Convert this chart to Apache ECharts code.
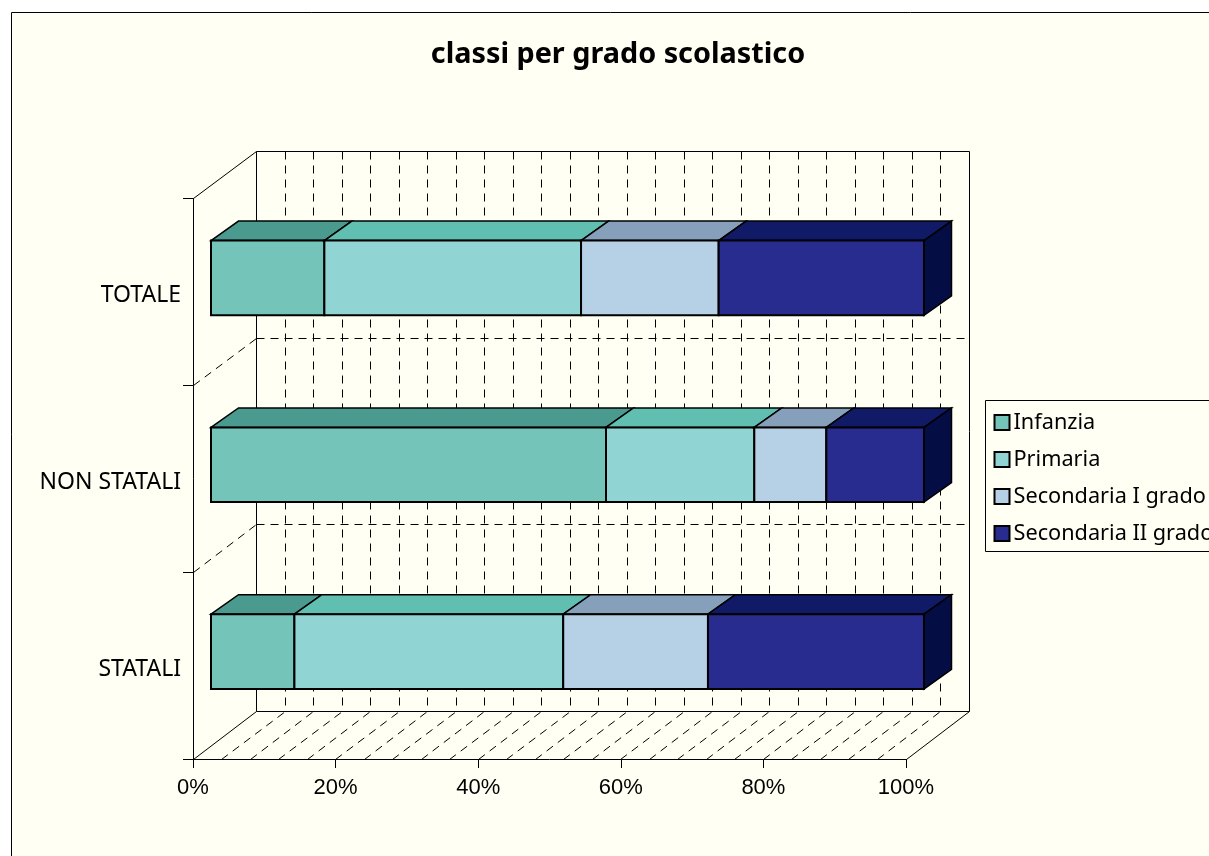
<!DOCTYPE html>
<html><head><meta charset="utf-8">
<style>html,body{margin:0;padding:0;background:#fff;overflow:hidden}#c{width:1209px;height:856px}</style>
<script src="https://cdn.jsdelivr.net/npm/echarts@6/dist/echarts.min.js"></script>
</head><body><div id="c"></div>
<script>
const categories = ['STATALI', 'NON STATALI', 'TOTALE'];
const seriesNames = ['Infanzia', 'Primaria', 'Secondaria I grado', 'Secondaria II grado'];
const infanzia = [11.7, 55.4, 15.9];
const primaria = [37.7, 20.8, 36.0];
const secondariaI = [20.3, 10.1, 19.3];
const secondariaII = [30.3, 13.7, 28.8];
const values = [infanzia, primaria, secondariaI, secondariaII];
const wallTicks = [0,4,8,12,16,20,24,28,32,36,40,44,48,52,56,60,64,68,72,76,80,84,88,92,96,100];
const frontColors = ['#74C4BA', '#90D4D3', '#B6D1E5', '#282C8F'];
const topColors = ['#4A9A90', '#60BFB0', '#86A0BC', '#111A66'];
const sideColor = '#050D45';

const DEPTH = [63.5, -47.3];
const BAR_OFFSET = [18, -14];
const BAR_DEPTH = [27.5, -19.5];
const BAR_FRAC = 0.4;
const DASH = [8, 6];
const ink = '#000';

function snap(v) { return Math.round(v - 0.5) + 0.5; }
function line(a, b, dashed) {
  return { type: 'line', shape: { x1: snap(a[0]), y1: snap(a[1]), x2: snap(b[0]), y2: snap(b[1]) },
    style: { stroke: ink, lineWidth: 1, lineDash: dashed ? DASH : null } };
}
function renderWallTick(params, api) {
  const v = api.value(0);
  const cs = params.coordSys;
  const x = api.coord([v, 0])[0];
  const bottom = cs.y + cs.height, top = cs.y;
  const edge = v === 0 || v === 100;
  const kids = [];
  kids.push(line([x + DEPTH[0], top + DEPTH[1]], [x + DEPTH[0], bottom + DEPTH[1]], !edge));
  kids.push(line([x, bottom], [x + DEPTH[0], bottom + DEPTH[1]], !edge));
  if (v === 0) {
    kids.push(line([x, top], [x + DEPTH[0], top + DEPTH[1]], false));
    kids.push(line([x + DEPTH[0], top + DEPTH[1]], [x + DEPTH[0] + cs.width, top + DEPTH[1]], false));
    kids.push(line([x + DEPTH[0], bottom + DEPTH[1]], [x + DEPTH[0] + cs.width, bottom + DEPTH[1]], false));
    const band = api.size([0, 1])[1];
    for (let i = 1; i < categories.length; i++) {
      const y = bottom - band * i;
      kids.push(line([x, y], [x + DEPTH[0], y + DEPTH[1]], true));
      kids.push(line([x + DEPTH[0], y + DEPTH[1]], [x + DEPTH[0] + cs.width, y + DEPTH[1]], true));
    }
  }
  return { type: 'group', children: kids };
}
function poly(points, fill, w) {
  return { type: 'polygon', shape: { points }, style: { fill, stroke: ink, lineWidth: w, lineJoin: 'miter' } };
}
function renderBar(si) {
  return function (params, api) {
    const cat = api.value(2);
    const p0 = api.coord([api.value(0), cat]);
    const p1 = api.coord([api.value(1), cat]);
    const h = api.size([0, 1])[1] * BAR_FRAC;
    const x0 = p0[0] + BAR_OFFSET[0], x1 = p1[0] + BAR_OFFSET[0];
    const yc = p0[1] + BAR_OFFSET[1];
    const t = yc - h / 2, b = yc + h / 2;
    const dx = BAR_DEPTH[0], dy = BAR_DEPTH[1];
    const kids = [
      poly([[x0, t], [x0 + dx, t + dy], [x1 + dx, t + dy], [x1, t]], topColors[si], 1.5)
    ];
    if (si === values.length - 1) {
      kids.push(poly([[x1, t], [x1 + dx, t + dy], [x1 + dx, b + dy], [x1, b]], sideColor, 1.5));
    }
    kids.push(poly([[x0, t], [x1, t], [x1, b], [x0, b]], frontColors[si], 2));
    return { type: 'group', children: kids };
  };
}
const barSeries = seriesNames.map((name, si) => ({
  name, type: 'custom', z: 5 + si, clip: false,
  itemStyle: { color: frontColors[si], borderColor: ink, borderWidth: 2 },
  encode: { x: [0, 1], y: 2 },
  renderItem: renderBar(si),
  data: categories.map((c, ci) => {
    let s = 0;
    for (let k = 0; k < si; k++) s += values[k][ci];
    return [s, s + values[si][ci], ci];
  })
}));

const labelFont = '"Noto Sans"';
const chart = echarts.init(document.getElementById('c'), null, { renderer: 'canvas' });
chart.setOption({
  animation: false,
  backgroundColor: '#fff',
  graphic: [{ type: 'rect', z: -10, silent: true,
    shape: { x: 11.5, y: 12.5, width: 1400, height: 1000 },
    style: { fill: '#FFFFF3', stroke: ink, lineWidth: 1 } }],
  title: { text: 'classi per grado scolastico', left: 613, top: 35, textAlign: 'center',
    textStyle: { fontFamily: labelFont, fontWeight: 'bold', fontSize: 28.8, color: ink } },
  grid: { left: 193, width: 713, top: 198.5, height: 560.5, containLabel: false },
  xAxis: { type: 'value', min: 0, max: 100, interval: 20,
    axisLine: { show: true, onZero: false, lineStyle: { color: ink, width: 1 } },
    axisTick: { show: true, length: 9, lineStyle: { color: ink } },
    splitLine: { show: false },
    axisLabel: { formatter: '{value}%', fontFamily: '"Liberation Sans"', fontSize: 22, color: ink, margin: 18 } },
  yAxis: { type: 'category', data: categories, boundaryGap: true,
    axisLine: { show: true, lineStyle: { color: ink, width: 1 } },
    axisTick: { show: true, length: 10, lineStyle: { color: ink } },
    splitLine: { show: false },
    axisLabel: { margin: 12, formatter: v => '{a|' + v + '}',
      rich: { a: { fontFamily: labelFont, fontSize: 23, color: ink, padding: [8, 0, 0, 0] } } } },
  legend: { orient: 'vertical', left: 985.5, top: 400.5, icon: 'rect',
    data: seriesNames, itemWidth: 15, itemHeight: 15, itemGap: 15, selectedMode: false,
    backgroundColor: '#FFFFF3', borderColor: ink, borderWidth: 1,
    padding: [11, 60, 7, 8],
    textStyle: { fontFamily: labelFont, fontSize: 21.7, color: ink, padding: [0, 0, 0, -1], lineHeight: 22 } },
  series: [{ name: 'wall', type: 'custom', z: 1, clip: false, silent: true,
    encode: { x: 0 }, renderItem: renderWallTick,
    data: wallTicks.map(v => [v]) }].concat(barSeries)
});
</script></body></html>
